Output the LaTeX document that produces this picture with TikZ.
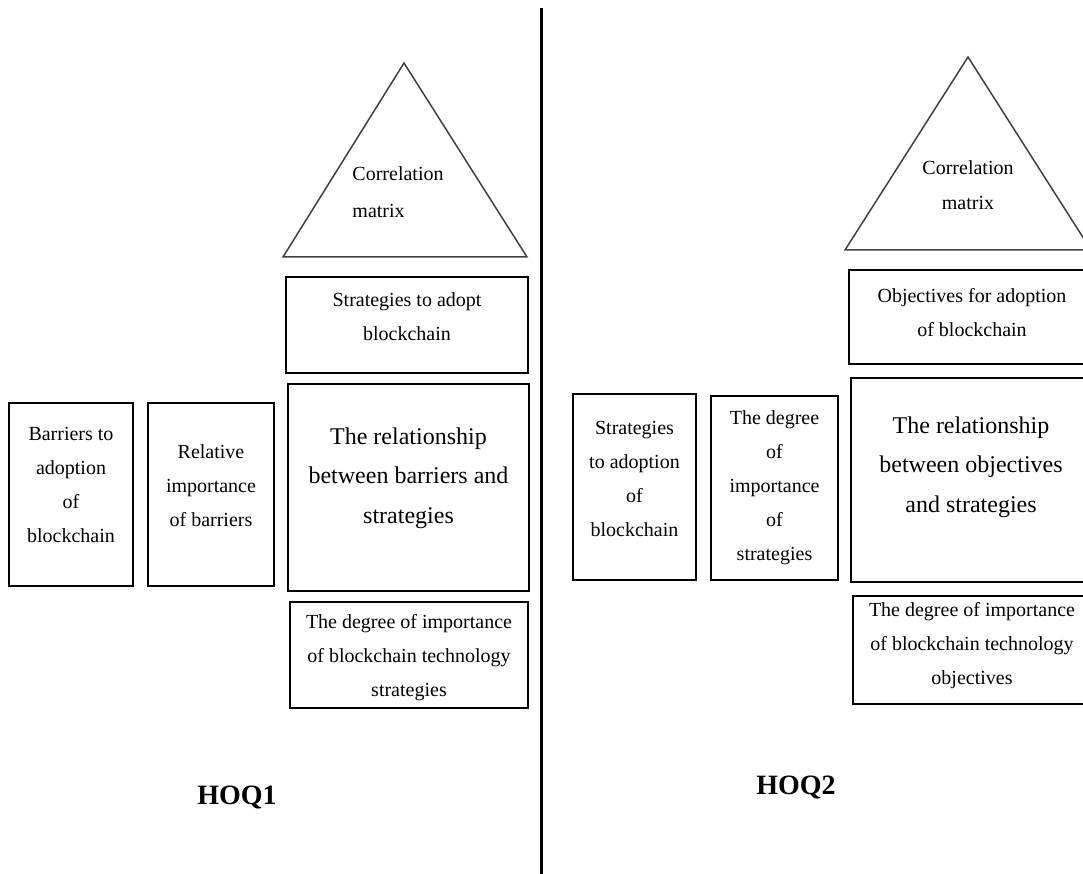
\documentclass[tikz,border=0pt]{standalone}
\usepackage{fontspec}
\setmainfont{Liberation Serif}
\begin{document}
\begin{tikzpicture}[x=1pt,y=-1pt,
  boxs/.style={draw=black, line width=1.4pt, inner sep=0pt, fill=none},
  tri/.style={draw=black!75, line width=1.5pt, line join=miter},
  txt/.style={align=center, inner sep=0pt, font=\fontsize{20}{34}\selectfont},
  bigtxt/.style={align=center, inner sep=0pt, font=\fontsize{24}{39.5}\selectfont},
  hoq/.style={inner sep=0pt, font=\fontsize{28}{30}\selectfont\bfseries},
  divider/.style={draw=black, line width=3pt}]
\useasboundingbox (0,0) rectangle (1083,874);
\clip (0,0) rectangle (1083,874);

% divider
\coordinate (dtop) at (541,8);
\coordinate (dbot) at (541,874);
\draw[divider] (dtop) -- (dbot);

% ---------- HOQ1 ----------
\coordinate (t1a) at (404,63);
\coordinate (t1l) at (283,257);
\coordinate (t1r) at (527,257);
\draw[tri] (t1a) -- (t1l) -- (t1r) -- cycle;
\node[txt, align=left, font=\fontsize{20}{37}\selectfont] (cm1) at (398,192) {Correlation\\matrix};

\node[boxs, minimum width=124, minimum height=183] (a) at (71,494.5) {};
\node[txt] (at) at (71,485) {Barriers to\\adoption\\of\\blockchain};

\node[boxs, minimum width=126, minimum height=183] (b) at (211,494.5) {};
\node[txt] (bt) at (211,486) {Relative\\importance\\of barriers};

\node[boxs, minimum width=242, minimum height=96] (c) at (407,325) {};
\node[txt] (ct) at (407,317) {Strategies to adopt\\blockchain};

\node[boxs, minimum width=241, minimum height=207] (d) at (408.5,487.5) {};
\node[bigtxt] (dt) at (408.5,478) {The relationship\\between barriers and\\strategies};

\node[boxs, minimum width=238, minimum height=106] (e) at (409,655) {};
\node[txt] (et) at (409,658) {The degree of importance\\of blockchain technology\\strategies};

\node[hoq] (h1) at (237,797) {HOQ1};

% ---------- HOQ2 ----------
\coordinate (t2a) at (968,57);
\coordinate (t2l) at (845,250);
\coordinate (t2r) at (1091,250);
\draw[tri] (t2a) -- (t2l) -- (t2r) -- cycle;
\node[txt, font=\fontsize{20}{35}\selectfont] (cm2) at (968,185) {Correlation\\matrix};

\node[boxs, minimum width=123, minimum height=186] (f) at (634.5,487) {};
\node[txt] (ft) at (634.5,479) {Strategies\\to adoption\\of\\blockchain};

\node[boxs, minimum width=127, minimum height=184] (g) at (774.5,488) {};
\node[txt] (gt) at (774.5,488) {The degree\\of\\importance\\of\\strategies};

\node[boxs, minimum width=246, minimum height=94] (hh) at (972,317) {};
\node[txt] (hht) at (972,313) {Objectives for adoption\\of blockchain};

\node[boxs, minimum width=244, minimum height=204] (i) at (973,480) {};
\node[bigtxt] (it) at (971,467) {The relationship\\between objectives\\and strategies};

\node[boxs, minimum width=242, minimum height=108] (j) at (974,650) {};
\node[txt] (jt) at (972,646) {The degree of importance\\of blockchain technology\\objectives};

\node[hoq] (h2) at (796,787) {HOQ2};
\end{tikzpicture}
\end{document}
